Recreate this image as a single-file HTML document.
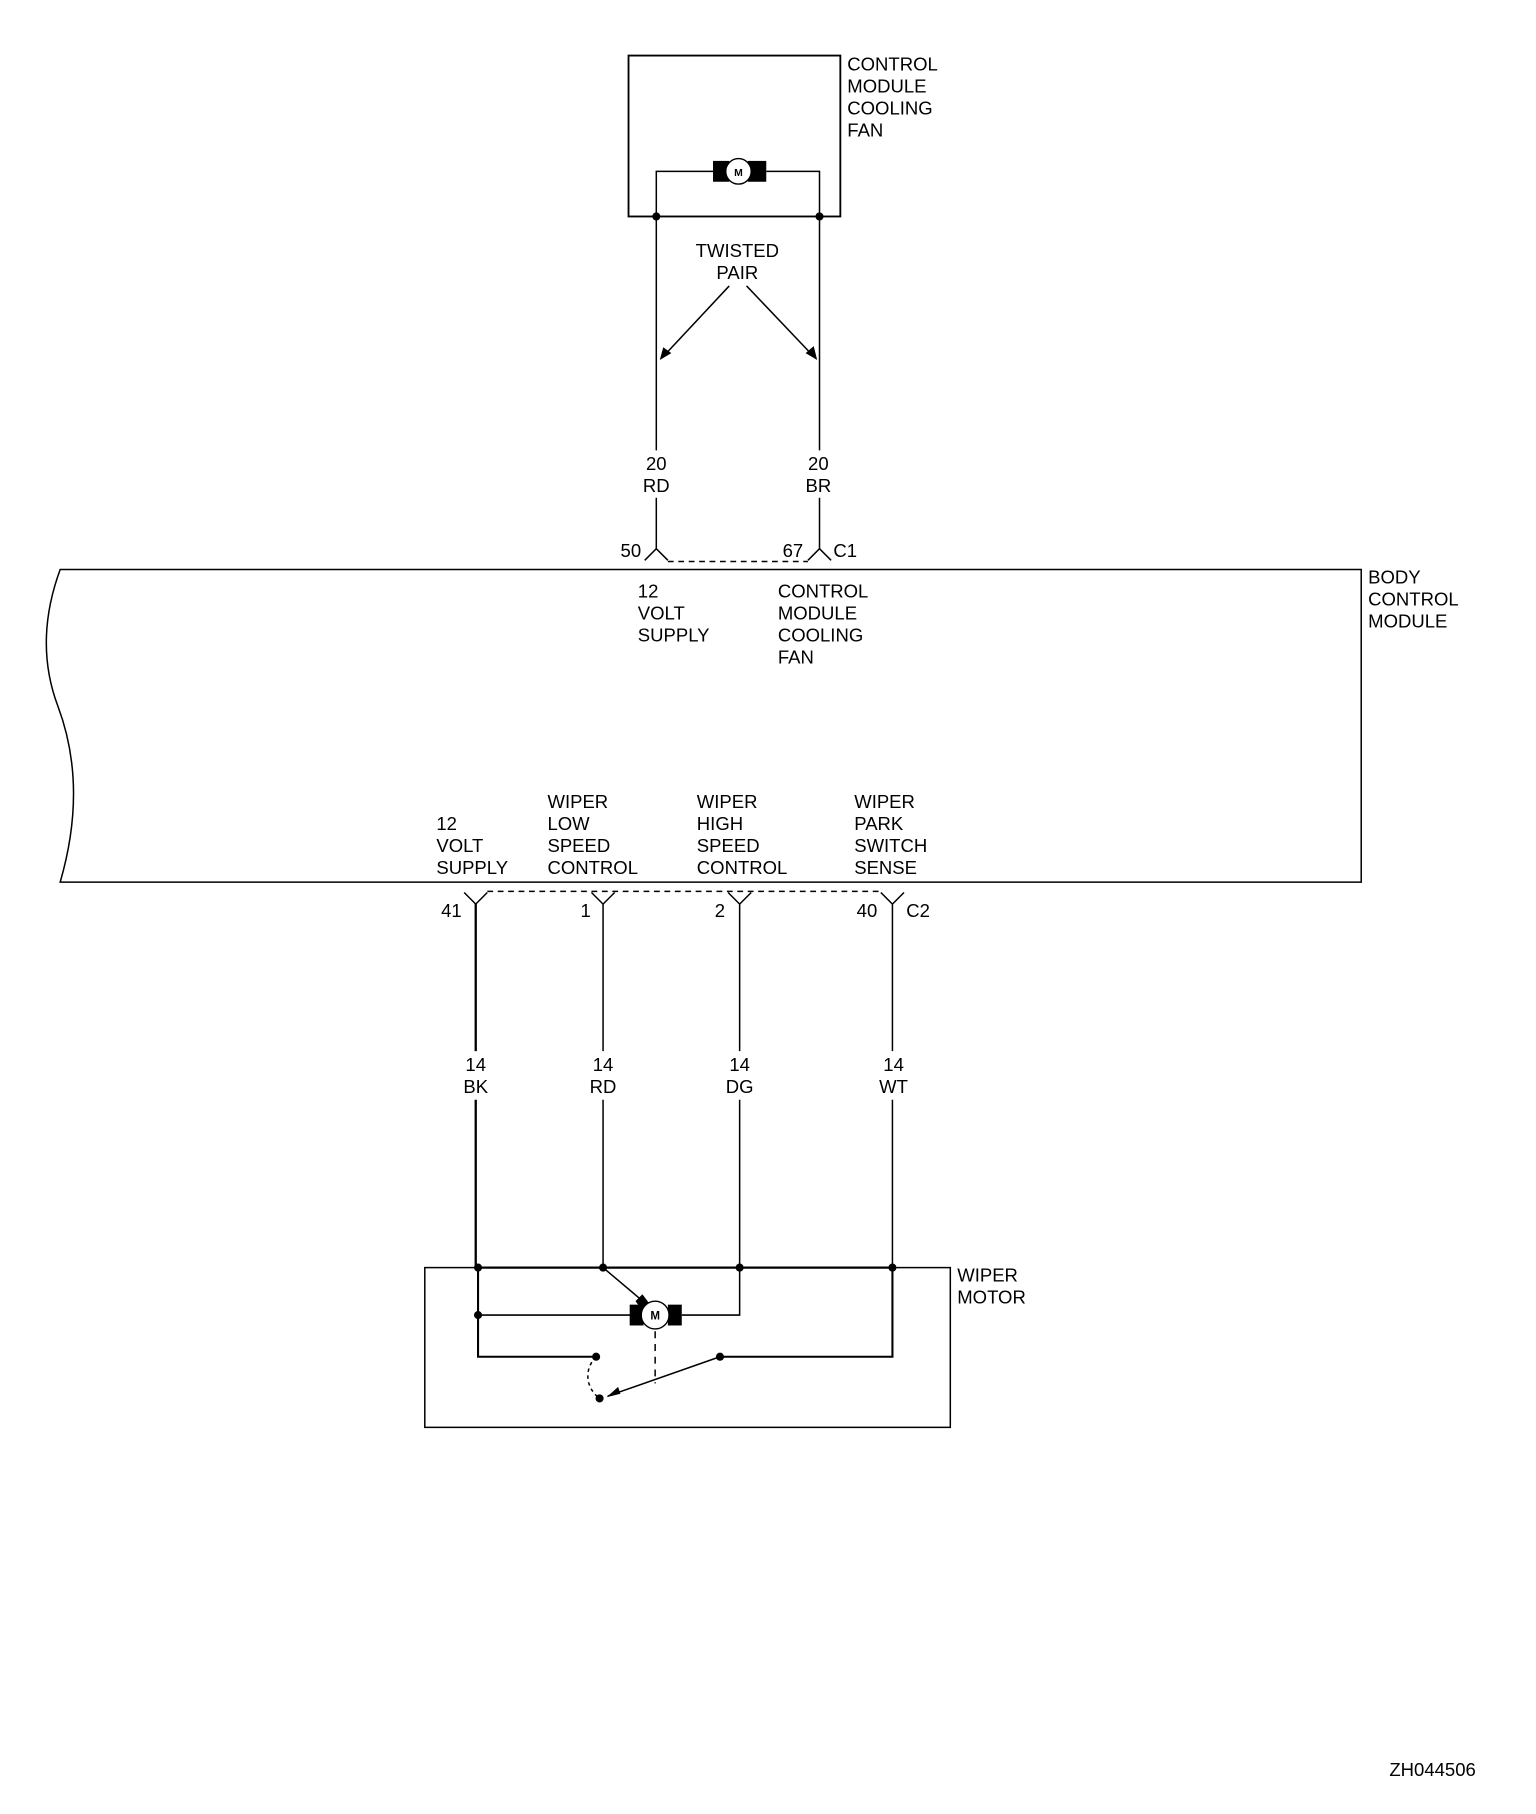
<!DOCTYPE html>
<html><head><style>
html,body{margin:0;padding:0;background:#fff;}
svg{display:block}
text{font-family:"Liberation Sans",Arial,sans-serif;font-size:16px;fill:#000}
</style></head><body>
<svg width="1536" height="1814" viewBox="0 0 1327 1567" preserveAspectRatio="none" xmlns="http://www.w3.org/2000/svg">
<g stroke="#000" fill="none" stroke-width="1.3">
<!-- fan module -->
<rect x="543" y="48" width="183" height="139" stroke-width="1.6"/>
<polyline points="567,187 567,148 616,148"/>
<polyline points="708,187 708,148 662,148"/>
<line x1="567" y1="187" x2="567" y2="389"/>
<line x1="708" y1="187" x2="708" y2="389"/>
<line x1="567" y1="430" x2="567" y2="474"/>
<line x1="708" y1="430" x2="708" y2="474"/>
<line x1="630" y1="247" x2="572" y2="309"/>
<line x1="645" y1="247" x2="704" y2="309"/>
<!-- C1 -->
<polyline points="557,484 567,474 577,484"/>
<polyline points="698,484 708,474 718,484"/>
<line x1="577" y1="485" x2="698" y2="485" stroke-dasharray="5,4"/>
<!-- BCM -->
<path d="M52,492 L1176,492 L1176,762 L52,762 C70,700 65,650 50,610 C35,570 38,530 52,492 Z" stroke-width="1.3"/>
<!-- C2 -->
<polyline points="401,771 411,781 421,771"/>
<polyline points="511,771 521,781 531,771"/>
<polyline points="629,771 639,781 649,771"/>
<polyline points="761,771 771,781 781,771"/>
<line x1="421" y1="770" x2="761" y2="770" stroke-dasharray="5,4"/>
<line x1="411" y1="781" x2="411" y2="908" stroke-width="2"/>
<line x1="411" y1="950" x2="411" y2="1095" stroke-width="2"/>
<line x1="521" y1="781" x2="521" y2="908"/><line x1="521" y1="950" x2="521" y2="1095"/>
<line x1="639" y1="781" x2="639" y2="908"/><line x1="639" y1="950" x2="639" y2="1095"/>
<line x1="771" y1="781" x2="771" y2="908"/><line x1="771" y1="950" x2="771" y2="1095"/>
<!-- wiper motor -->
<rect x="367" y="1095" width="454" height="138"/>
<line x1="411" y1="1095" x2="771" y2="1095" stroke-width="2"/>
<polyline points="413,1095 413,1172 515,1172" stroke-width="1.8"/>
<line x1="413" y1="1136" x2="545" y2="1136"/>
<polyline points="589,1136 639,1136 639,1095"/>
<polyline points="771,1095 771,1172 622,1172" stroke-width="1.8"/>
<line x1="521" y1="1095" x2="553" y2="1122"/>
<line x1="566" y1="1150" x2="566" y2="1195" stroke-dasharray="6,5"/>
<line x1="622" y1="1172" x2="525" y2="1206"/>
<path d="M515,1172 C505,1182 505,1198 518,1208" stroke-dasharray="3,3"/>
</g>
<g fill="#000">
<circle cx="567" cy="187" r="3.5"/><circle cx="708" cy="187" r="3.5"/>
<rect x="616" y="139" width="14" height="18"/><rect x="646" y="139" width="16" height="18"/>
<polygon points="570,311 573,300 580,305"/><polygon points="706,311 696,305 703,299"/>
<circle cx="413" cy="1095" r="3.5"/><circle cx="521" cy="1095" r="3.5"/><circle cx="639" cy="1095" r="3.5"/><circle cx="771" cy="1095" r="3.5"/>
<circle cx="413" cy="1136" r="3.5"/>
<circle cx="515" cy="1172" r="3.5"/><circle cx="622" cy="1172" r="3.5"/><circle cx="518" cy="1208" r="3.5"/>
<rect x="544" y="1127" width="12" height="18"/><rect x="577" y="1127" width="12" height="18"/>
<polygon points="549,1124 555,1118 561,1126 555,1132"/>
<polygon points="524,1207 534,1198 536,1204"/>
</g>
<circle cx="638" cy="148" r="11" fill="#fff" stroke="#000" stroke-width="1.2"/>
<text x="638" y="152" text-anchor="middle" style="font-size:9px;font-weight:bold">M</text>
<circle cx="566" cy="1136" r="12" fill="#fff" stroke="#000" stroke-width="1.2"/>
<text x="566" y="1140" text-anchor="middle" style="font-size:10px;font-weight:bold">M</text>
<g>
<text x="732" y="61">CONTROL</text><text x="732" y="80">MODULE</text><text x="732" y="99">COOLING</text><text x="732" y="118">FAN</text>
<text x="637" y="222" text-anchor="middle">TWISTED</text><text x="637" y="241" text-anchor="middle">PAIR</text>
<text x="567" y="406" text-anchor="middle">20</text><text x="567" y="425" text-anchor="middle">RD</text>
<text x="707" y="406" text-anchor="middle">20</text><text x="707" y="425" text-anchor="middle">BR</text>
<text x="545" y="481" text-anchor="middle">50</text><text x="685" y="481" text-anchor="middle">67</text><text x="720" y="481">C1</text>
<text x="1182" y="504">BODY</text><text x="1182" y="523">CONTROL</text><text x="1182" y="542">MODULE</text>
<text x="551" y="516">12</text><text x="551" y="535">VOLT</text><text x="551" y="554">SUPPLY</text>
<text x="672" y="516">CONTROL</text><text x="672" y="535">MODULE</text><text x="672" y="554">COOLING</text><text x="672" y="573">FAN</text>
<text x="377" y="717">12</text><text x="377" y="736">VOLT</text><text x="377" y="755">SUPPLY</text>
<text x="473" y="698">WIPER</text><text x="473" y="717">LOW</text><text x="473" y="736">SPEED</text><text x="473" y="755">CONTROL</text>
<text x="602" y="698">WIPER</text><text x="602" y="717">HIGH</text><text x="602" y="736">SPEED</text><text x="602" y="755">CONTROL</text>
<text x="738" y="698">WIPER</text><text x="738" y="717">PARK</text><text x="738" y="736">SWITCH</text><text x="738" y="755">SENSE</text>
<text x="390" y="792" text-anchor="middle">41</text><text x="506" y="792" text-anchor="middle">1</text><text x="622" y="792" text-anchor="middle">2</text><text x="749" y="792" text-anchor="middle">40</text><text x="783" y="792">C2</text>
<text x="411" y="925" text-anchor="middle">14</text><text x="411" y="944" text-anchor="middle">BK</text>
<text x="521" y="925" text-anchor="middle">14</text><text x="521" y="944" text-anchor="middle">RD</text>
<text x="639" y="925" text-anchor="middle">14</text><text x="639" y="944" text-anchor="middle">DG</text>
<text x="772" y="925" text-anchor="middle">14</text><text x="772" y="944" text-anchor="middle">WT</text>
<text x="827" y="1107">WIPER</text><text x="827" y="1126">MOTOR</text>
<text x="1275" y="1534" text-anchor="end">ZH044506</text>
</g>
</svg>
</body></html>
